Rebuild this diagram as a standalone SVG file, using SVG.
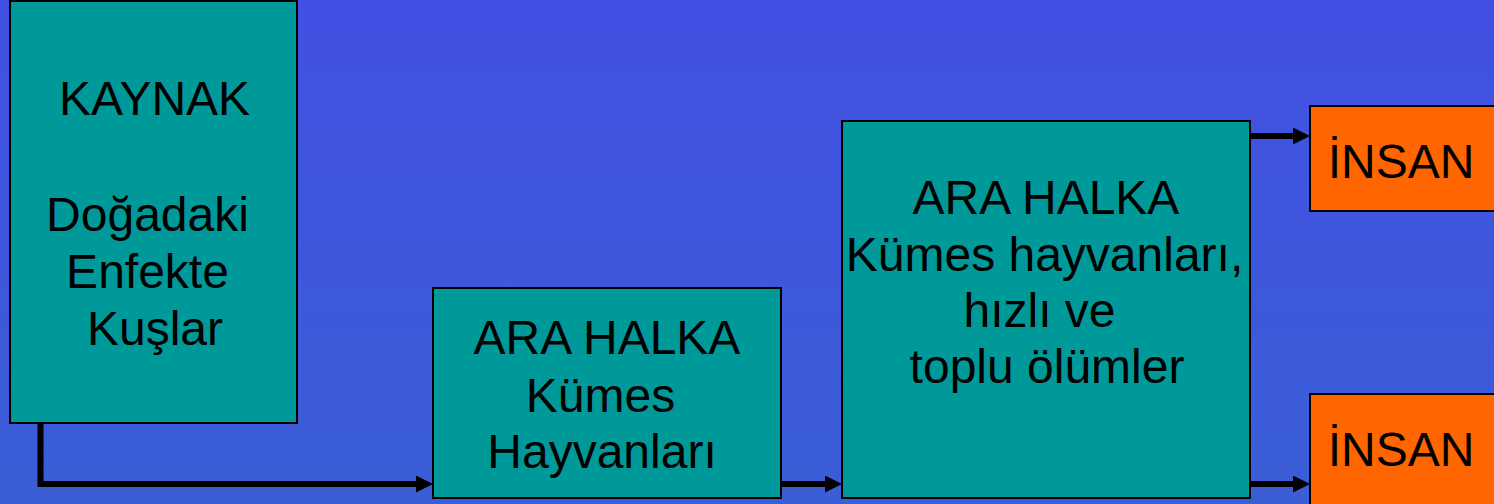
<svg xmlns="http://www.w3.org/2000/svg" width="1494" height="504" viewBox="0 0 1494 504">
<defs>
<linearGradient id="bg" x1="0" y1="0" x2="0" y2="1">
<stop offset="0" stop-color="#4150E3"/>
<stop offset="1" stop-color="#3A5ED6"/>
</linearGradient>
<marker id="ah" markerUnits="userSpaceOnUse" markerWidth="17" markerHeight="17" refX="5" refY="8.5" orient="auto">
<path d="M0,0 L17,8.5 L0,17 z" fill="#000"/>
</marker>
<style>
.teal{fill:#009999;stroke:#000;stroke-width:2}
.orange{fill:#FF6600;stroke:#000;stroke-width:2}
text{font-family:"Liberation Sans",Arial,sans-serif;font-size:48px;fill:#000;text-anchor:middle}
.conn{fill:none;stroke:#000;stroke-width:6;marker-end:url(#ah)}
</style>
</defs>
<rect x="0" y="0" width="1494" height="504" fill="url(#bg)"/>
<g id="connectors">
<path class="conn" d="M40.5 423 V484 H421"/>
<path class="conn" d="M781 484 H830"/>
<path class="conn" d="M1250 136 H1298"/>
<path class="conn" d="M1250 484 H1298"/>
</g>
<g id="kaynak">
<rect class="teal" x="10" y="1" width="287" height="422"/>
<text x="154.5" y="115">KAYNAK</text>
<text x="147.5" y="231">Doğadaki</text>
<text x="147.5" y="288">Enfekte</text>
<text x="155" y="345">Kuşlar</text>
</g>
<g id="ara-halka-1">
<rect class="teal" x="433" y="288" width="348" height="210"/>
<text x="607" y="354">ARA HALKA</text>
<text x="600.5" y="412">Kümes</text>
<text x="602" y="468">Hayvanları</text>
</g>
<g id="ara-halka-2">
<rect class="teal" x="842" y="121" width="408" height="377"/>
<text x="1046" y="214">ARA HALKA</text>
<text x="1044.5" y="271">Kümes hayvanları,</text>
<text x="1039.5" y="327">hızlı ve</text>
<text x="1047" y="383">toplu ölümler</text>
</g>
<g id="insan-1">
<rect class="orange" x="1310" y="106" width="200" height="105"/>
<text x="1401" y="178">İNSAN</text>
</g>
<g id="insan-2">
<rect class="orange" x="1310" y="394" width="200" height="120"/>
<text x="1401" y="466">İNSAN</text>
</g>
</svg>
